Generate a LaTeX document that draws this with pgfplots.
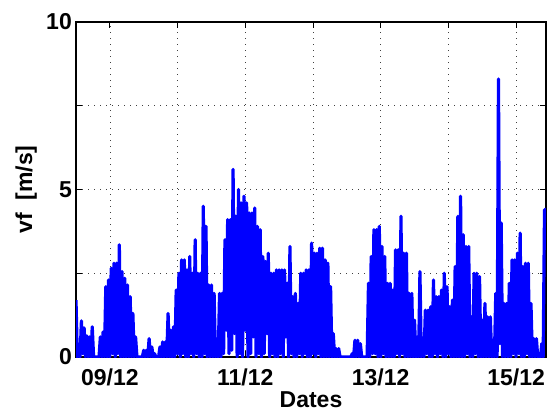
\documentclass[border=0pt]{standalone}
\usepackage{fontspec}
\setmainfont{Liberation Sans}
\usepackage{pgfplots}
\pgfplotsset{compat=1.18}
\begin{document}
\begin{tikzpicture}
\useasboundingbox (-76bp,-58bp) rectangle (472bp,357bp);
\begin{axis}[
  at={(0,0)}, anchor=south west,
  scale only axis, width=470bp, height=335bp,
  xmin=8.5, xmax=15.442, ymin=0, ymax=10,
  xtick={9,10,11,12,13,14,15},
  xticklabels={09/12,,11/12,,13/12,,15/12},
  ytick={0,2.5,5,7.5,10},
  yticklabels={0,,5,,10},
  tick align=inside,
  major tick length=6bp,
  grid=major,
  major grid style={black!75, line width=0.6bp, dash pattern=on 1bp off 5bp},
  axis line style={line width=1.3bp},
  every tick/.style={black, line width=0.8bp},
  tick label style={font=\fontsize{23bp}{27bp}\selectfont\bfseries},
  xticklabel style={anchor=base, yshift=-28bp},
  yticklabel style={anchor=east, inner sep=0pt, xshift=-4bp},
  label style={font=\fontsize{23bp}{27bp}\selectfont\bfseries},
  xlabel={Dates},
  xlabel style={at={(axis description cs:0.5,-0.1522)}, anchor=base},
  ylabel={vf~~[m/s]},
  ylabel style={at={(axis description cs:-0.0936,0.5)}, anchor=base},
]
\addplot[color={rgb,255:red,0;green,0;blue,255}, line width=3.2bp, line join=round] table {
8.50 1.7
8.52 0.0
8.54 0.3
8.56 0.0
8.58 1.08
8.60 0.1
8.62 0.87
8.64 0.0
8.66 0.63
8.68 0.0
8.70 0.6
8.72 0.0
8.74 0.9
8.76 0.0
8.78 0.0
8.80 0.0
8.82 0.0
8.84 0.0
8.86 0.6
8.88 0.0
8.90 0.75
8.92 0.0
8.94 2.1
8.96 0.0
8.98 2.3
9.00 0.0
9.02 2.65
9.04 0.1
9.06 2.8
9.08 0.0
9.10 2.8
9.12 0.1
9.14 3.35
9.16 0.0
9.18 2.55
9.20 0.0
9.22 2.35
9.24 0.0
9.26 2.15
9.28 0.0
9.30 1.8
9.32 0.0
9.34 1.3
9.36 0.0
9.38 0.6
9.40 0.0
9.42 0.0
9.44 0.0
9.46 0.0
9.48 0.0
9.50 0.2
9.52 0.0
9.54 0.2
9.56 0.0
9.58 0.55
9.60 0.0
9.62 0.3
9.64 0.0
9.66 0.1
9.68 0.0
9.70 0.0
9.72 0.0
9.74 0.3
9.76 0.0
9.78 0.45
9.80 0.0
9.82 0.45
9.84 0.0
9.86 1.3
9.88 0.0
9.90 0.8
9.92 0.0
9.94 0.9
9.96 0.0
9.98 2.0
10.00 0.1
10.02 2.5
10.04 0.0
10.06 2.9
10.08 0.1
10.10 2.9
10.12 0.0
10.14 2.6
10.16 0.0
10.18 3.0
10.20 0.1
10.22 2.5
10.24 0.0
10.26 3.5
10.28 0.1
10.30 2.5
10.32 0.0
10.34 2.5
10.36 0.0
10.38 4.5
10.40 0.1
10.42 3.9
10.44 0.0
10.46 2.15
10.48 0.0
10.50 2.15
10.52 0.0
10.54 1.9
10.56 0.0
10.58 0.3
10.60 0.0
10.62 1.9
10.64 0.0
10.66 1.9
10.68 0.1
10.70 3.5
10.72 0.8
10.74 4.1
10.76 0.1
10.78 4.1
10.80 0.2
10.82 5.6
10.84 0.7
10.86 4.2
10.88 0.0
10.90 5.0
10.92 0.1
10.94 4.6
10.96 0.0
10.98 4.8
11.00 0.8
11.02 4.6
11.04 0.0
11.06 4.3
11.08 0.1
11.10 4.3
11.12 0.6
11.14 4.45
11.16 0.0
11.18 3.9
11.20 0.1
11.22 3.8
11.24 0.0
11.26 3.0
11.28 0.1
11.30 2.85
11.32 0.7
11.34 3.1
11.36 0.0
11.38 2.5
11.40 0.1
11.42 2.5
11.44 0.0
11.46 2.6
11.48 0.0
11.50 2.6
11.52 0.1
11.54 2.6
11.56 0.0
11.58 2.6
11.60 0.6
11.62 2.2
11.64 0.0
11.66 3.3
11.68 0.1
11.70 1.8
11.72 0.0
11.74 1.9
11.76 0.0
11.78 1.6
11.80 0.1
11.82 2.5
11.84 0.0
11.86 2.5
11.88 0.1
11.90 2.6
11.92 0.0
11.94 2.6
11.96 0.0
11.98 3.4
12.00 0.1
12.02 3.1
12.04 0.0
12.06 3.1
12.08 0.1
12.10 3.25
12.12 0.0
12.14 3.25
12.16 0.0
12.18 2.9
12.20 0.0
12.22 2.8
12.24 0.0
12.26 2.1
12.28 0.0
12.30 0.7
12.32 0.0
12.34 0.25
12.36 0.0
12.38 0.25
12.40 0.0
12.42 0.0
12.44 0.0
12.46 0.0
12.48 0.0
12.50 0.0
12.52 0.0
12.54 0.0
12.56 0.0
12.58 0.1
12.60 0.0
12.62 0.5
12.64 0.0
12.66 0.5
12.68 0.0
12.70 0.4
12.72 0.0
12.74 0.0
12.76 0.0
12.78 0.0
12.80 0.0
12.82 2.2
12.84 0.0
12.86 3.0
12.88 0.1
12.90 3.8
12.92 0.1
12.94 3.8
12.96 0.0
12.98 3.9
13.00 0.0
13.02 3.3
13.04 0.1
13.06 3.0
13.08 0.0
13.10 2.2
13.12 0.0
13.14 2.2
13.16 0.0
13.18 2.0
13.20 0.0
13.22 3.2
13.24 0.1
13.26 3.2
13.28 0.0
13.30 4.2
13.32 0.1
13.34 3.1
13.36 0.0
13.38 3.1
13.40 0.0
13.42 1.9
13.44 0.0
13.46 1.9
13.48 0.0
13.50 1.1
13.52 0.0
13.54 0.6
13.56 0.0
13.58 2.55
13.60 0.0
13.62 0.5
13.64 0.0
13.66 1.4
13.68 0.1
13.70 1.4
13.72 0.0
13.74 1.5
13.76 0.0
13.78 2.3
13.80 0.1
13.82 1.8
13.84 0.0
13.86 1.8
13.88 0.1
13.90 2.0
13.92 0.0
13.94 2.5
13.96 0.0
13.98 2.1
14.00 0.1
14.02 1.5
14.04 0.0
14.06 1.7
14.08 0.0
14.10 2.7
14.12 0.0
14.14 4.2
14.16 0.0
14.18 4.8
14.20 0.0
14.22 3.65
14.24 0.0
14.26 3.3
14.28 0.1
14.30 3.3
14.32 0.0
14.34 1.2
14.36 0.0
14.38 2.5
14.40 0.1
14.42 2.5
14.44 0.0
14.46 2.4
14.48 0.0
14.50 1.1
14.52 0.0
14.54 1.6
14.56 0.0
14.58 1.2
14.60 0.0
14.62 1.2
14.64 0.0
14.66 0.5
14.68 0.0
14.70 1.9
14.72 0.0
14.74 8.3
14.76 0.4
14.78 4.0
14.80 0.0
14.82 1.6
14.84 0.0
14.86 1.6
14.88 0.0
14.90 2.2
14.92 0.0
14.94 2.9
14.96 0.1
14.98 2.9
15.00 0.0
15.02 3.1
15.04 0.1
15.06 3.7
15.08 0.0
15.10 2.7
15.12 0.0
15.14 2.8
15.16 0.1
15.18 2.8
15.20 0.0
15.22 1.6
15.24 0.0
15.26 0.55
15.28 0.0
15.30 0.55
15.32 0.0
15.34 0.1
15.36 0.0
15.38 0.4
15.40 0.0
15.42 4.4
15.44 4.4
};
\end{axis}
\end{tikzpicture}
\end{document}
